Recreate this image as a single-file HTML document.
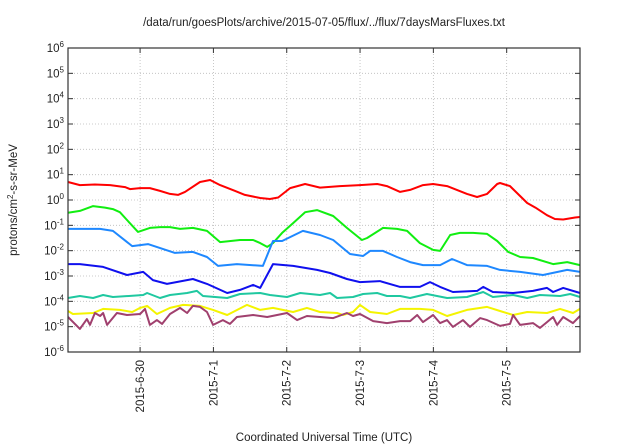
<!DOCTYPE html>
<html><head><meta charset="utf-8"><style>
body{margin:0;background:#fff;}
svg{display:block;font-family:"Liberation Sans",sans-serif;}
</style></head><body>
<svg id="chart" width="640" height="448" viewBox="0 0 640 448" xmlns="http://www.w3.org/2000/svg">
<text x="324" y="26" font-size="11.5" text-anchor="middle" fill="#222">/data/run/goesPlots/archive/2015-07-05/flux/../flux/7daysMarsFluxes.txt</text>
<text transform="translate(17,200) rotate(-90)" font-size="11.5" text-anchor="middle" fill="#222">protons/cm<tspan dy="-4" font-size="8">2</tspan><tspan dy="4">-s-sr-MeV</tspan></text>
<text x="324" y="441" font-size="11.5" text-anchor="middle" fill="#222">Coordinated Universal Time (UTC)</text>
<g id="grid"></g><g id="series"></g><g id="axes"></g>
</svg>
<script>
const xTickLabels=["2015-6-30","2015-7-1","2015-7-2","2015-7-3","2015-7-4","2015-7-5"];
const xTickHours=[23.6,47.6,71.6,95.6,119.6,143.6];
const yTickExps=[-6,-5,-4,-3,-2,-1,0,1,2,3,4,5,6];
const seriesNames=["red","green","lightblue","blue","teal","yellow","purple"];
const seriesColors=["#ff0000","#11ee11","#1e88ff","#1010ee","#1fc8a0","#f4f400","#a0406e"];
// hours since start, log10 flux
const redT=[0,3.9,8.8,13.8,18.7,20.3,23.6,26.8,30.1,33.4,36.0,38.3,43.2,46.5,49.8,54.7,57.9,62.9,66.1,68.8,72.7,77.6,82.5,89,95.6,101.2,104.4,108.7,112,116.2,119.5,124.1,130.6,133.9,137.2,140.5,141.4,144.7,150.3,153,156.8,159.4,162.1,166,167.6];
const redV=[0.71,0.59,0.61,0.59,0.51,0.43,0.47,0.47,0.36,0.24,0.20,0.32,0.71,0.79,0.59,0.36,0.20,0.08,0.04,0.10,0.47,0.63,0.49,0.55,0.59,0.63,0.55,0.32,0.40,0.59,0.63,0.55,0.24,0.12,0.24,0.63,0.67,0.55,-0.12,-0.3,-0.6,-0.75,-0.77,-0.69,-0.67];
const greenT=[0,3.9,8.2,12.1,14.7,17,19.3,22.9,26.8,30.1,33.4,36.7,40.9,45.5,49.8,56.3,60.6,62.9,65.2,67.1,70.1,73.7,77.6,81.5,86.8,91.3,96.2,97.9,103.1,107.7,111,115.2,119.5,121.8,125.1,128.3,132.6,137.2,140.5,144.1,148,152.2,158.8,163.4,167.6];
const greenV=[-0.50,-0.43,-0.24,-0.30,-0.36,-0.48,-0.79,-1.26,-1.10,-1.07,-1.07,-1.14,-1.10,-1.22,-1.66,-1.58,-1.58,-1.70,-1.85,-1.70,-1.30,-0.91,-0.48,-0.40,-0.63,-1.10,-1.58,-1.50,-1.10,-1.14,-1.22,-1.70,-1.97,-2.01,-1.38,-1.30,-1.30,-1.34,-1.62,-2.05,-2.25,-2.29,-2.53,-2.45,-2.57];
const lightblueT=[0,10.5,14.7,21,26.2,35,40.9,45.5,49.1,55.3,63.8,67.1,70.1,76.9,82.5,86.8,92.3,96.6,98.9,103.1,107.7,112,116.2,121.8,125.7,130.6,137.2,141.4,148,155.5,163.4,167.6];
const lightblueV=[-1.14,-1.14,-1.22,-1.82,-1.74,-2.09,-2.05,-2.25,-2.60,-2.53,-2.60,-1.62,-1.62,-1.22,-1.38,-1.58,-2.13,-2.21,-2.01,-2.01,-2.25,-2.45,-2.57,-2.57,-2.33,-2.57,-2.60,-2.76,-2.84,-2.96,-2.76,-2.84];
const blueT=[0,3.9,11.5,19.3,24.6,27.8,32.4,40.9,45.5,52.1,56.3,60.6,62.9,67.1,73.7,81.5,85.8,91.3,95.6,102.1,108.7,115.2,118.5,121.8,126,133.9,135.9,139.1,145.7,152.2,156.8,158.8,162.1,167.6];
const blueV=[-2.53,-2.53,-2.64,-2.96,-2.84,-3.16,-3.31,-3.12,-3.31,-3.67,-3.55,-3.35,-3.47,-2.53,-2.60,-2.76,-2.88,-3.12,-3.24,-3.20,-3.43,-3.43,-3.24,-3.43,-3.63,-3.59,-3.43,-3.63,-3.67,-3.59,-3.47,-3.63,-3.47,-3.67];
const tealT=[0,3.9,8.2,11.5,14.7,24.6,25.9,30.1,33.4,39,42.2,44.2,52.1,56.3,62.9,66.1,71.7,76,82.5,85.8,88.1,93.3,96.6,101.2,104.4,108.7,112,117.5,124.1,130.6,135.9,139.1,145.7,150.3,154.5,161.1,164.4,167.6];
const tealV=[-3.87,-3.79,-3.87,-3.75,-3.83,-3.75,-3.67,-3.87,-3.75,-3.67,-3.59,-3.79,-3.87,-3.71,-3.67,-3.75,-3.83,-3.67,-3.75,-3.67,-3.87,-3.83,-3.71,-3.67,-3.79,-3.79,-3.87,-3.71,-3.87,-3.83,-3.63,-3.83,-3.75,-3.87,-3.75,-3.79,-3.71,-3.83];
const yellowT=[0,1.6,8.2,11.5,17,21,23.6,25.9,29.1,33.4,37.7,43.2,47.5,52.1,58.6,62.9,67.1,73.7,78.2,82.5,88.1,90,93.3,95.6,98.9,104.4,108.7,115.2,119.5,124.1,130.6,137.2,141.4,145.7,150.3,156.8,161.1,165.3,167.6];
const yellowV=[-4.38,-4.50,-4.46,-4.30,-4.34,-4.42,-4.26,-4.18,-4.50,-4.26,-4.14,-4.18,-4.34,-4.54,-4.14,-4.34,-4.26,-4.42,-4.26,-4.42,-4.46,-4.54,-4.42,-4.14,-4.42,-4.50,-4.30,-4.30,-4.34,-4.58,-4.34,-4.22,-4.38,-4.54,-4.42,-4.46,-4.30,-4.46,-4.30];
const purpleT=[0,3.9,6.2,7.2,8.8,10.5,11.5,12.8,16,19.3,23.6,25.2,26.8,29.1,30.8,33.4,36.7,39,40.9,43.2,45.5,47.5,50.7,53,55.3,60.6,65.2,71.7,75,78.2,82.5,86.8,91.3,93.3,95.6,99.9,104.4,108.7,112,114.3,116.2,119.5,121.8,124.1,126,129.3,131.6,134.9,137.2,141.4,144.7,145.7,148,152.2,154.5,156.8,158.8,160.1,162.1,165.3,167.6];
const purpleV=[-4.62,-5.09,-4.70,-4.93,-4.46,-4.58,-4.46,-4.93,-4.46,-4.54,-4.50,-4.30,-4.93,-4.74,-4.89,-4.50,-4.26,-4.46,-4.18,-4.22,-4.42,-4.93,-4.74,-4.89,-4.62,-4.54,-4.62,-4.46,-4.74,-4.58,-4.62,-4.66,-4.46,-4.58,-4.50,-4.78,-4.86,-4.78,-4.78,-4.54,-4.82,-4.54,-4.86,-4.74,-5.01,-4.74,-5.01,-4.66,-4.74,-4.97,-4.89,-4.54,-4.93,-4.86,-5.05,-4.82,-4.62,-4.93,-4.62,-4.86,-4.58];

const PL=68,PR=580,PT=48,PB=352,H0=0,H1=167.6,E0=-6,E1=6;
const xS=h=>PL+(h-H0)/(H1-H0)*(PR-PL);
const yS=e=>PB-(e-E0)/(E1-E0)*(PB-PT);
const NS="http://www.w3.org/2000/svg";
function mk(tag,parent){const el=document.createElementNS(NS,tag);parent.appendChild(el);return el;}
const grid=document.getElementById('grid'),axes=document.getElementById('axes'),ser=document.getElementById('series');
yTickExps.forEach(e=>{
  const y=yS(e);
  if(e>E0&&e<E1){const g=mk('line',grid);
  
  
  g.setAttribute('x1',PL);g.setAttribute('x2',PR);g.setAttribute('y1',y);g.setAttribute('y2',y);
  g.setAttribute('stroke','#bbb');g.setAttribute('stroke-width','0.8');g.setAttribute('stroke-dasharray','1,2');}
  const t1=mk('line',axes);
  
  
  t1.setAttribute('x1',PL);t1.setAttribute('x2',PL+5);t1.setAttribute('y1',y);t1.setAttribute('y2',y);t1.setAttribute('stroke','#333');
  const t2=mk('line',axes);
  
  
  t2.setAttribute('x1',PR-5);t2.setAttribute('x2',PR);t2.setAttribute('y1',y);t2.setAttribute('y2',y);t2.setAttribute('stroke','#333');
  const tx=mk('text',axes);
  
  
  tx.setAttribute('x',PL-4);tx.setAttribute('y',y+4);tx.setAttribute('text-anchor','end');tx.setAttribute('font-size','11.5');tx.setAttribute('fill','#222');
  tx.innerHTML='10<tspan dy="-5" font-size="8">'+e+'</tspan>';
});
xTickHours.forEach((h,i)=>{
  const x=xS(h);
  const g=mk('line',grid);
  
  
  g.setAttribute('x1',x);g.setAttribute('x2',x);g.setAttribute('y1',PT);g.setAttribute('y2',PB);
  g.setAttribute('stroke','#bbb');g.setAttribute('stroke-width','0.8');g.setAttribute('stroke-dasharray','1,2');
  const t=mk('line',axes);
  
  
  t.setAttribute('x1',x);t.setAttribute('x2',x);t.setAttribute('y1',PB);t.setAttribute('y2',PB-5);t.setAttribute('stroke','#333');
  const t3=mk('line',axes);
  
  
  t3.setAttribute('x1',x);t3.setAttribute('x2',x);t3.setAttribute('y1',PT);t3.setAttribute('y2',PT+5);t3.setAttribute('stroke','#333');
  const tx=mk('text',axes);
  
  
  tx.setAttribute('transform','translate('+(x+4)+','+(PB+8)+') rotate(-90)');
  tx.setAttribute('text-anchor','end');tx.setAttribute('font-size','11.5');tx.setAttribute('fill','#222');
  tx.textContent=xTickLabels[i];
});
const frame=mk('rect',axes);


frame.setAttribute('x',PL);frame.setAttribute('y',PT);frame.setAttribute('width',PR-PL);frame.setAttribute('height',PB-PT);
frame.setAttribute('fill','none');frame.setAttribute('stroke','#333');frame.setAttribute('stroke-width','1.2');
const allT=[redT,greenT,lightblueT,blueT,tealT,yellowT,purpleT];
const allV=[redV,greenV,lightblueV,blueV,tealV,yellowV,purpleV];
allT.forEach((T,k)=>{
  const V=allV[k];
  const p=mk('path',ser);
  
  
  p.setAttribute('d',T.map((h,i)=>(i?'L':'M')+xS(h).toFixed(1)+','+yS(V[i]).toFixed(1)).join(''));
  p.setAttribute('fill','none');p.setAttribute('stroke',seriesColors[k]);p.setAttribute('stroke-width','2');p.setAttribute('stroke-linejoin','round');
});
</script>
</body></html>
